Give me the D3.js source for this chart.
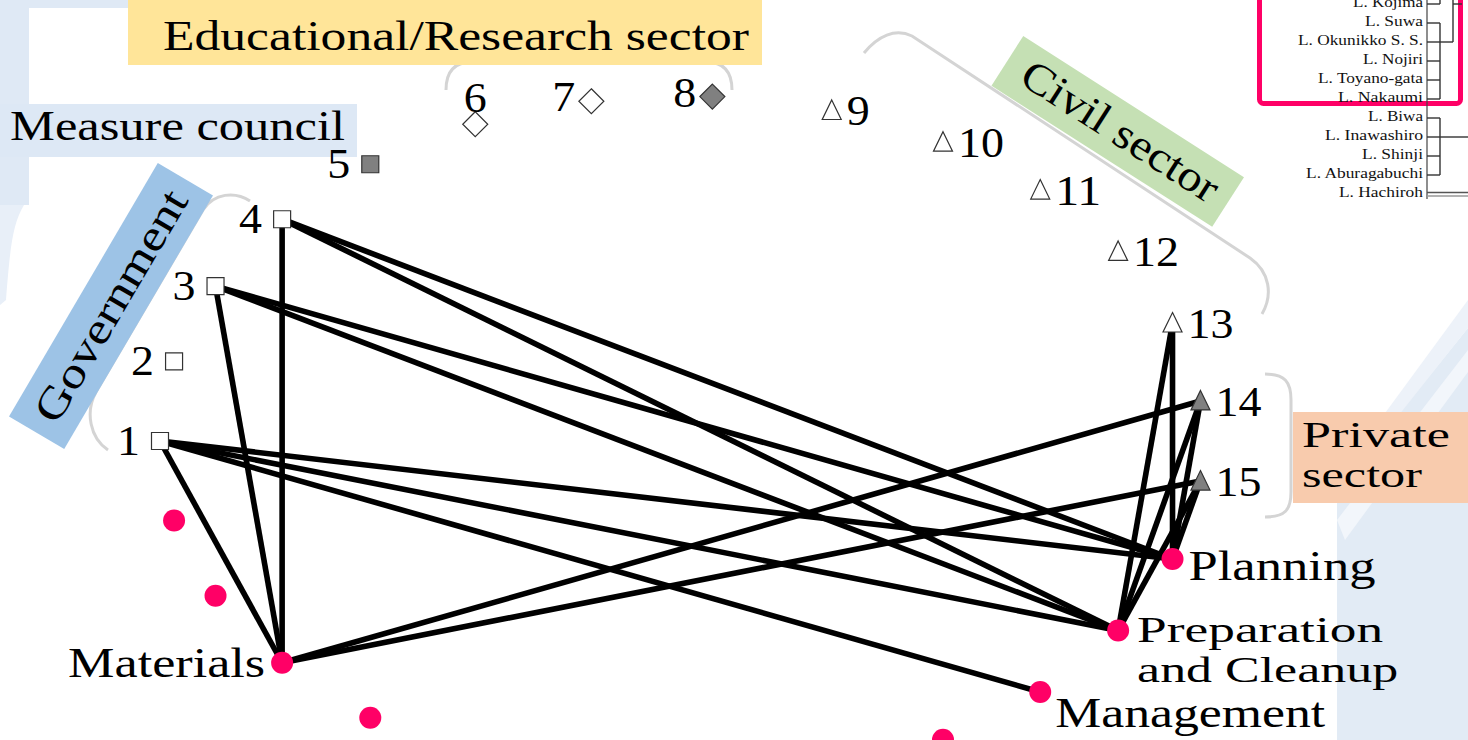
<!DOCTYPE html>
<html><head><meta charset="utf-8">
<script src="https://cdn.jsdelivr.net/npm/d3@7"></script>
<style>html,body{margin:0;padding:0;background:#fff;overflow:hidden}svg{display:block}</style>
</head><body><svg id="c" width="1468" height="740"></svg>
<script>
// ---------------- data ----------------
const stakeholders = ["1","2","3","4","5","6","7","8","9","10","11","12","13","14","15"];
const stakeholderSector = ["Government","Government","Government","Government","Measure council",
  "Educational/Research sector","Educational/Research sector","Educational/Research sector",
  "Civil sector","Civil sector","Civil sector","Civil sector","Civil sector",
  "Private sector","Private sector"];
const filledStakeholders = ["5","8","14","15"];
const tasks = ["Planning","Preparation and Cleanup","Management","task4","task5","task6","task7","task8","task9","Materials","task11","task12"];
const taskLabels = ["Planning","Preparation|and Cleanup","Management","","","","","","","Materials","",""];
const links = [
  ["1","Materials"],["1","Planning"],["1","Preparation and Cleanup"],["1","Management"],
  ["3","Materials"],["3","Planning"],["3","Preparation and Cleanup"],
  ["4","Materials"],["4","Planning"],["4","Preparation and Cleanup"],
  ["13","Planning"],["13","Preparation and Cleanup"],
  ["14","Planning"],["14","Preparation and Cleanup"],
  ["15","Planning"],["15","Preparation and Cleanup"],
  ["Materials","14"],["Materials","15"]
];
const sectorNames = ["Educational/Research sector","Measure council","Government","Civil sector","Private|sector"];
const lakes = ["L. Kojima","L. Suwa","L. Okunikko S. S.","L. Nojiri","L. Toyano\u2010gata","L. Nakaumi",
  "L. Biwa","L. Inawashiro","L. Shinji","L. Aburagabuchi","L. Hachiroh"];
const lakeCluster = [0,1,1,1,1,1,2,2,2,2,3];

// ---------------- layout ----------------
const svg = d3.select("#c");
const FONT = "'Liberation Serif','Times New Roman',serif";
const nTotal = stakeholders.length + tasks.length;
const angle = d3.scaleLinear().domain([0, nTotal]).range([Math.PI, 3 * Math.PI]);
const cx = 682, cy = 441, rx = 522, ry = 345;
const nodes = [];
stakeholders.forEach((s, i) => nodes.push({id: s, i, kind: "s", sector: stakeholderSector[i], filled: filledStakeholders.includes(s)}));
tasks.forEach((t, j) => nodes.push({id: t, i: stakeholders.length + j, kind: "t", label: taskLabels[j]}));
nodes.forEach(n => { const a = angle(n.i); n.x = cx + rx * Math.cos(a); n.y = cy + ry * Math.sin(a); });
const byId = new Map(nodes.map(n => [n.id, n]));

// ---------------- background ----------------
const bg = svg.append("g");
bg.append("rect").attr("x",0).attr("y",0).attr("width",29).attr("height",205).attr("fill","#dfe9f5");
bg.append("rect").attr("x",0).attr("y",0).attr("width",130).attr("height",8).attr("fill","#dfe9f5");
bg.append("path").attr("d","M0,205 L24,205 C12,225 10,250 6,300 L0,305 Z").attr("fill","#e8eff8");
bg.append("path").attr("d","M1337,740 L1337,490 L1468,328 L1468,740 Z").attr("fill","#e2ebf5");
bg.append("path").attr("d","M1337,520 L1468,350 L1468,372 L1345,540 Z").attr("fill","#f2f6fb");
bg.append("path").attr("d","M1380,420 L1468,300 L1468,328 L1395,420 Z").attr("fill","#edf2f9");

// ---------------- sector labels ----------------
const deco = svg.append("g");
const brk = {fill:"none", stroke:"#d4d4d4", "stroke-width":3};
function bracket(d){ const p = deco.append("path").attr("d", d); Object.entries(brk).forEach(([k,v])=>p.attr(k,v)); }
bracket("M446,90 Q446,62 472,62 L706,62 Q732,62 732,90");
bracket("M250,201 C235,191 214,193 203,210 L96,392 C85,412 90,438 108,450");
bracket("M864,53 C878,36 895,28 912,36 L1250,258 C1270,272 1273,295 1262,314");
bracket("M1265,374 C1285,374 1291,382 1291,400 L1291,492 C1291,510 1285,517 1265,517");

// Educational / research
deco.append("rect").attr("x",128).attr("y",-2).attr("width",634).attr("height",67).attr("fill","#ffe599");
deco.append("text").attr("x",163).attr("y",50).attr("font-family",FONT).attr("font-size",42)
  .attr("textLength",586).attr("lengthAdjust","spacingAndGlyphs").text(sectorNames[0]);
// Measure council
deco.append("rect").attr("x",0).attr("y",104).attr("width",357).attr("height",53).attr("fill","#dde8f5");
deco.append("text").attr("x",10).attr("y",140).attr("font-family",FONT).attr("font-size",42)
  .attr("textLength",335).attr("lengthAdjust","spacingAndGlyphs").text(sectorNames[1]);
// Government (rotated)
const gGov = deco.append("g").attr("transform","translate(111,306) rotate(-59.6)");
gGov.append("rect").attr("x",-147).attr("y",-32).attr("width",294).attr("height",64).attr("fill","#9dc3e6");
gGov.append("text").attr("x",0).attr("y",14).attr("text-anchor","middle").attr("font-family",FONT).attr("font-size",43)
  .attr("textLength",262).attr("lengthAdjust","spacingAndGlyphs").text(sectorNames[2]);
// Civil (rotated)
const gCiv = deco.append("g").attr("transform","translate(1118,131) rotate(32.6)");
gCiv.append("rect").attr("x",-131).attr("y",-29).attr("width",262).attr("height",59).attr("fill","#c5e0b4");
gCiv.append("text").attr("x",2).attr("y",13).attr("text-anchor","middle").attr("font-family",FONT).attr("font-size",43)
  .attr("textLength",226).attr("lengthAdjust","spacingAndGlyphs").text(sectorNames[3]);
// Private (two lines)
deco.append("rect").attr("x",1293).attr("y",412).attr("width",180).attr("height",91).attr("fill","#f8cbad");
const pWidths = [148, 120];
sectorNames[4].split("|").forEach((w, k) => {
  deco.append("text").attr("font-family",FONT).attr("font-size",36).attr("x",1302).attr("y",447 + k*40)
    .attr("textLength",pWidths[k]).attr("lengthAdjust","spacingAndGlyphs").text(w);
});

// ---------------- links ----------------
svg.append("g").selectAll("line").data(links).join("line")
  .attr("x1", d => byId.get(d[0]).x).attr("y1", d => byId.get(d[0]).y)
  .attr("x2", d => byId.get(d[1]).x).attr("y2", d => byId.get(d[1]).y)
  .attr("stroke","#000").attr("stroke-width",5.6);

// ---------------- markers ----------------
function shapePath(n){
  if (n.kind === "t") return null;
  if (n.sector === "Government" || n.sector === "Measure council") { const h = 8.5; return `M${-h},${-h}H${h}V${h}H${-h}Z`; }
  if (n.sector === "Educational/Research sector") { const h = 12.5; return `M0,${-h}L${h},0L0,${h}L${-h},0Z`; }
  return "M0,-10.5L9.5,9L-9.5,9Z";
}
const mk = svg.append("g");
mk.selectAll("path").data(nodes.filter(n => n.kind === "s")).join("path")
  .attr("d", shapePath).attr("transform", d => `translate(${d.x},${d.y})`)
  .attr("fill", d => d.filled ? "#808080" : "#fff").attr("stroke","#333").attr("stroke-width",1.2);
mk.selectAll("circle").data(nodes.filter(n => n.kind === "t")).join("circle")
  .attr("cx", d => d.x).attr("cy", d => d.y).attr("r", 11).attr("fill","#ff0066");

// ---------------- node labels ----------------
const lab = svg.append("g").attr("font-family",FONT).attr("font-size",43).attr("fill","#000");
function sPlace(i){
  if (i <= 4) return {a:"end", dx:-20, dy:14};
  if (i === 5) return {a:"middle", dx:0, dy:-12};
  if (i <= 7) return {a:"end", dx:-16, dy:10};
  return {a:"start", dx:15, dy:15};
}
nodes.filter(n => n.kind === "s").forEach(n => {
  const p = sPlace(n.i);
  lab.append("text").attr("x", n.x + p.dx).attr("y", n.y + p.dy).attr("text-anchor", p.a)
    .attr("textLength", n.id.length * 23).attr("lengthAdjust","spacingAndGlyphs").text(n.id);
});
const taskPlace = {
  "Planning": {a:"start", dx:16, dy:21, w:[187], fs:42},
  "Preparation and Cleanup": {a:"start", dx:19, dy:11, w:[246,261], fs:36},
  "Management": {a:"start", dx:15, dy:35, w:[270], fs:42},
  "Materials": {a:"end", dx:-17, dy:14, w:[197], fs:42}
};
nodes.filter(n => n.kind === "t" && n.label).forEach(n => {
  const p = taskPlace[n.id];
  n.label.split("|").forEach((line, k) => {
    lab.append("text").attr("text-anchor", p.a).attr("font-size", p.fs)
      .attr("x", n.x + p.dx).attr("y", n.y + p.dy + k * 40)
      .attr("textLength", p.w[k]).attr("lengthAdjust","spacingAndGlyphs").text(line);
  });
});

// ---------------- dendrogram (top right) ----------------
const dg = svg.append("g");
const ly = d3.scalePoint().domain(lakes).range([4, 194]);
const lakeW = [70,58,125,60,105,85,55,98,61,117,84];
// highlight frame (behind the labels)
dg.append("rect").attr("x",1259.5).attr("y",-12).attr("width",201).attr("height",115.5).attr("rx",4)
  .attr("fill","none").attr("stroke","#ff0066").attr("stroke-width",5);
dg.selectAll("text").data(lakes).join("text")
  .attr("x", 1423).attr("y", d => ly(d) + 2.5).attr("text-anchor","end")
  .attr("font-family",FONT).attr("font-size",14.5).attr("fill","#111")
  .attr("textLength",(d,i)=>lakeW[i]).attr("lengthAdjust","spacingAndGlyphs").text(d => d);
const L = (x1,y1,x2,y2,c="#333",w=1.4)=>dg.append("line").attr("x1",x1).attr("y1",y1).attr("x2",x2).attr("y2",y2).attr("stroke",c).attr("stroke-width",w);
L(1427,-2,1427,199,"#444",1.2);
lakes.forEach((d,i)=>{ if (lakeCluster[i] !== 3) L(1427, ly(d), 1440, ly(d)); });
const c1 = lakes.filter((d,i)=>lakeCluster[i]===1);
L(1440, ly(c1[0]), 1440, ly(c1[c1.length-1]));
L(1440, ly(lakes[2]), 1453, ly(lakes[2]));
L(1440, -2, 1440, ly(lakes[0]));
L(1453, -2, 1453, ly(lakes[2]));
L(1453, ly(lakes[0]), 1462, ly(lakes[0]));
const c2 = lakes.filter((d,i)=>lakeCluster[i]===2);
L(1440, ly(c2[0]), 1440, ly(c2[c2.length-1]));
L(1440, ly(lakes[7]), 1468, ly(lakes[7]));
L(1427, ly(lakes[10]) - 1.5, 1468, ly(lakes[10]) - 1.5, "#555", 1.3);
L(1427, ly(lakes[10]) + 2, 1468, ly(lakes[10]) + 2, "#999", 1.3);
</script></body></html>
